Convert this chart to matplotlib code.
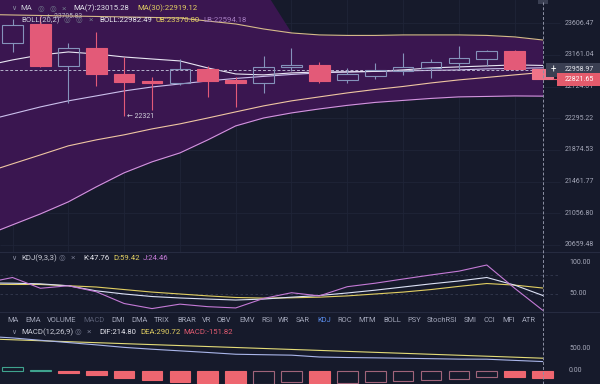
import numpy as np
import matplotlib.pyplot as plt
from matplotlib.patches import Rectangle
from matplotlib.lines import Line2D

plt.rcParams['font.family'] = ['Roboto', 'DejaVu Sans']

# ---------------- data ----------------
opens  = [23325, 23597, 23009, 23263, 22898, 22806, 22778, 22963, 22816, 22778,
          22991, 23018, 22816, 22871, 22933, 22977, 23050, 23105, 23217, 22963]
highs  = [23668, 23705.83, 23325, 23488, 23133, 22857, 23101, 23002, 22857, 23147,
          23255, 23068, 22974, 23043, 23184, 23105, 23287, 23224, 23224, 22981]
lows   = [23203, 22995, 22503, 22733, 22321, 22408, 22747, 22584, 22452, 22638,
          22940, 22774, 22767, 22829, 22885, 22839, 22967, 23009, 22947, 22809]
closes = [23583, 23009, 23263, 22898, 22792, 22778, 22963, 22806, 22774, 22991,
          23023, 22806, 22894, 22954, 22995, 23068, 23115, 23217, 22960, 22821.65]

# indicator lines start one bar before the first visible candle
ub = [23733, 23725, 23718, 23711, 23704, 23697, 23690, 23682, 23639, 23597, 23526,
      23470, 23442, 23435, 23435, 23442, 23442, 23442, 23435, 23414, 23370.80]
band_top = [24100, 24100, 24100, 24100, 24100, 24100, 24100, 24100, 24100, 24100, 24100,
            23470, 23442, 23435, 23435, 23442, 23442, 23442, 23435, 23414, 23370.80]
boll_mid = [22260, 22354, 22448, 22530, 22597, 22665, 22719, 22760, 22802, 22836, 22864,
            22891, 22912, 22926, 22933, 22940, 22947, 22954, 22968, 22975, 22982.49]
lb = [20772, 20910, 21048, 21201, 21393, 21575, 21718, 21835, 22007, 22193, 22299,
      22367, 22421, 22469, 22509, 22536, 22563, 22584, 22590, 22597, 22594.18]
ma7 = [23009, 23092, 23161, 23203, 23175, 23133, 23105, 23078, 22981, 22898, 22885,
       22912, 22926, 22926, 22933, 22954, 22981, 22995, 23009, 23023, 23015.28]
ma30 = [21575, 21692, 21809, 21928, 22007, 22074, 22153, 22220, 22299, 22381, 22462,
        22530, 22584, 22638, 22685, 22726, 22774, 22816, 22850, 22885, 22919.12]

k_line = [67.5, 67, 66, 63, 55, 50, 46, 43.7, 42, 40.5, 42,
          45, 47.6, 51.6, 56, 61, 66, 70.5, 76, 64, 47.76]
d_line = [65.5, 65, 65, 63, 61, 57, 53, 50, 47, 44.5, 43.5,
          44, 45, 47, 50, 53, 57, 62, 66.5, 64, 59.42]
j_line = [67, 76, 59, 63, 53.6, 35, 27, 34, 30, 28, 43,
          52, 47, 61.5, 67, 73.6, 80, 86, 95.7, 59, 24.46]

dif = [790, 752, 698, 646, 594, 537, 495, 458, 421, 381, 370,
       360, 318, 306, 299, 290, 280, 270, 268, 241, 214.80]
dea = [732, 710, 688, 666, 644, 622, 600, 578, 556, 534, 512,
       490, 468, 446, 424, 402, 380, 358, 336, 314, 290.72]
macd_hist = [110, 85, 20, -40, -100, -170, -210, -240, -270, -305, -285,
             -260, -300, -280, -250, -225, -200, -175, -135, -146, -151.82]

price_ticks = [23606.47, 23161.04, 22724.01, 22295.22, 21874.53, 21461.77, 21056.80, 20659.48]
cross_price = 22958.97

tabs = ['MA', 'EMA', 'VOLUME', 'MACD', 'DMI', 'DMA', 'TRIX', 'BRAR', 'VR', 'OBV', 'EMV',
        'RSI', 'WR', 'SAR', 'KDJ', 'ROC', 'MTM', 'BOLL', 'PSY', 'StochRSI', 'SMI', 'CCI',
        'MFI', 'ATR']
tab_x = [7, 25, 47, 83, 111, 131, 154, 177, 202, 217, 239, 261, 278, 296, 317, 337,
         358, 383, 407, 427, 464, 483, 502, 522]

# ---------------- style ----------------
W, H = 600, 384
X0, DX = 12.5, 27.9          # pixel centre of first candle, candle spacing
BG = '#161a2b'
GRID = '#1f2438'
FILL = '#3a1650'
UP = '#8593bb'
DOWN = '#e35a78'
AXC = '#a4a7b8'
YEL = '#e2cf62'
PUR = '#c47ad6'

idx = np.arange(len(opens))
lx = np.arange(-1, len(opens))
xl = (-X0 / DX, (W - X0) / DX)
last = idx[-1]
x_lab = (560 - X0) / DX

fig = plt.figure(figsize=(6, 3.84), dpi=100)
fig.patch.set_facecolor(BG)


def panel(top, bottom):
    ax = fig.add_axes([0, 1 - bottom / H, 1, (bottom - top) / H])
    ax.set_facecolor('none')
    ax.set_xlim(*xl)
    ax.axis('off')
    return ax


def ftext(x, y, s, color='#c9cbd6', size=5.6, **kw):
    fig.text(x / W, 1 - y / H, s, color=color, fontsize=size, va='center', ha='left', **kw)


# ---------------- main panel ----------------
ax = panel(0, 252)
ax.set_yscale('log')
ax.set_ylim(20571, 23940)
px_ln = np.log(23940 / 20571) / 252
trans = ax.get_yaxis_transform()

ax.hlines(price_ticks, xl[0], x_lab, color=GRID, lw=0.6, zorder=0)
for i in idx[::2]:
    ax.axvline(i, color=GRID, lw=0.6, zorder=0)

ax.fill_between(lx, lb, band_top, color=FILL, lw=0, zorder=1)
ax.plot(lx, ub, color='#d6bb8a', lw=0.8, zorder=3)
ax.plot(lx, lb, color='#d395df', lw=0.8, zorder=3)
ax.plot(lx, ma30, color='#efc6a2', lw=0.8, zorder=3)
ax.plot(lx, boll_mid, color='#cbc0ec', lw=0.8, zorder=3)
ax.plot(lx, ma7, color='#e8e6f2', lw=0.8, zorder=3)

for i, (o, h, l, c) in enumerate(zip(opens, highs, lows, closes)):
    up = c >= o
    col = UP if up else DOWN
    if i == last:
        col = '#ee7388'
    top, bot = max(o, c), min(o, c)
    ax.vlines(i, top, h, color=col, lw=0.8, zorder=4)
    ax.vlines(i, l, bot, color=col, lw=0.8, zorder=4)
    ax.add_patch(Rectangle((i - 0.37, bot), 0.74, top - bot,
                           facecolor='none' if up else col, edgecolor=col, lw=0.8, zorder=4))

ax.hlines(cross_price, xl[0], last, color='#b5b2cc', lw=0.7, linestyles=(0, (3, 2)), zorder=3.5)

ax.text(4.1, min(lows), '\u2190 22321', color='#d4d4de', fontsize=5, va='center', zorder=5)
ax.text(1.25, max(highs), '\u2190 23705.83', color='#b9b9c9', fontsize=4.8, va='center', zorder=2)

for p in price_ticks:
    ax.text(565 / W, p, f'{p:.2f}', transform=trans, color=AXC, fontsize=5, va='center', zorder=5)

f7 = np.exp(7 * px_ln)
ax.add_patch(Rectangle((546 / W, cross_price / f7), 54 / W, cross_price * (f7 - 1 / f7),
                       transform=trans, facecolor='#3a3f52', edgecolor='none', zorder=6))
ax.text(565 / W, cross_price, f'{cross_price:.2f}', transform=trans, color='#e6e7ee',
        fontsize=5, va='center', zorder=7)
ax.text(553 / W, cross_price, '+', transform=trans, color='white', fontsize=7,
        va='center', ha='center', zorder=7)

cl = closes[-1]
f6 = np.exp(6.3 * px_ln)
ax.add_patch(Rectangle((557 / W, cl / f6), 43 / W, cl * (f6 - 1 / f6),
                       transform=trans, facecolor='#e45b6c', edgecolor='none', zorder=6))
ax.hlines(cl, last + 0.37, (557 - X0) / DX, color='#e45b6c', lw=0.8, zorder=6)
ax.text(565 / W, cl, f'{cl:.2f}', transform=trans, color='white', fontsize=5, va='center', zorder=7)

# header rows
ftext(11, 8.5, '\u2228', '#8a8ea2', 5)
ftext(20, 8.5, 'MA')
ftext(38, 8.5, '\u25ce', '#6d7186', 5.5)
ftext(50, 8.5, '\u25ce', '#6d7186', 5.5)
ftext(62, 8.5, '\u00d7', '#6d7186', 6)
ftext(73, 8.5, 'MA(7):23015.28', '#e4e4ec')
ftext(137, 8.5, 'MA(30):22919.12', YEL)
ftext(21, 20, 'BOLL(20,2)')
ftext(64, 20, '\u25ce', '#6d7186', 5.5)
ftext(76, 20, '\u25ce', '#6d7186', 5.5)
ftext(89, 20, '\u00d7', '#6d7186', 6)
ftext(99, 20, 'BOLL:22982.49', '#e4e4ec')
ftext(156, 20, 'UB:23370.80', YEL)
ftext(203, 20, 'LB:22594.18', '#a57cc0')
fig.add_artist(Rectangle((538 / W, 1 - 4 / H), 10 / W, 4 / H, transform=fig.transFigure,
                         facecolor='#3a3f52', edgecolor='none'))

# ---------------- KDJ panel ----------------
axk = panel(252, 312)
axk.set_ylim(21.6, 116.2)
axk.hlines([80, 50], xl[0], x_lab, color='#353a50', lw=0.6, linestyles=(0, (3, 3)), zorder=0)
axk.plot(lx, d_line, color=YEL, lw=0.8)
axk.plot(lx, k_line, color='#dce1f5', lw=0.8)
axk.plot(lx, j_line, color=PUR, lw=0.8)
for v in (100, 50):
    axk.text(569 / W, v, f'{v:.2f}', transform=axk.get_yaxis_transform(), color=AXC,
             fontsize=5, va='center')

ftext(11, 258, '\u2228', '#8a8ea2', 5)
ftext(21, 258, 'KDJ(9,3,3)')
ftext(59, 258, '\u25ce', '#6d7186', 5.5)
ftext(71, 258, '\u00d7', '#6d7186', 6)
ftext(83, 258, 'K:47.76', '#e4e4ec')
ftext(113, 258, 'D:59.42', YEL)
ftext(143, 258, 'J:24.46', PUR)

# ---------------- indicator tabs ----------------
for name, x in zip(tabs, tab_x):
    col = '#a3a7ba'
    if name == 'MACD':
        col = '#5b6076'
    elif name == 'KDJ':
        col = '#5b8ff0'
    ftext(x, 320, name, col, 5.4)

# ---------------- MACD panel ----------------
axm = panel(327, 384)
axm.set_ylim(-295.5, 1000)
for i in idx:
    h, prev = macd_hist[i + 1], macd_hist[i]
    pos = h >= 0
    col = '#2fb896' if pos else '#ee6670'
    hollow = abs(h) < abs(prev) and (h >= 0) == (prev >= 0)
    edge = ('#3fa38e' if pos else '#a0647a') if hollow else col
    axm.add_patch(Rectangle((i - 0.37, min(0, h)), 0.74, abs(h),
                            facecolor='none' if hollow else col, edgecolor=edge, lw=0.8))
axm.plot(lx, dea, color='#e4dc78', lw=0.8)
axm.plot(lx, dif, color='#aab6ea', lw=0.8)
for v in (500, 0):
    axm.text(569 / W, v, f'{v:.2f}', transform=axm.get_yaxis_transform(), color=AXC,
             fontsize=5, va='center')

ftext(11, 332, '\u2228', '#8a8ea2', 5)
ftext(21, 332, 'MACD(12,26,9)')
ftext(75, 332, '\u25ce', '#6d7186', 5.5)
ftext(87, 332, '\u00d7', '#6d7186', 6)
ftext(99, 332, 'DIF:214.80', '#e4e4ec')
ftext(140, 332, 'DEA:290.72', YEL)
ftext(183, 332, 'MACD:-151.82', '#e05a70')

# ---------------- separators & crosshair ----------------
for y in (252, 312):
    fig.add_artist(Line2D([0, 1], [1 - y / H] * 2, transform=fig.transFigure,
                          color='#262b40', lw=0.8))
xc = (X0 + DX * last) / W
fig.add_artist(Line2D([xc, xc], [0, 1], transform=fig.transFigure,
                      color='#8c90a4', lw=0.7, ls=(0, (3, 2))))

fig.savefig('out.png', dpi=100, facecolor=BG)
